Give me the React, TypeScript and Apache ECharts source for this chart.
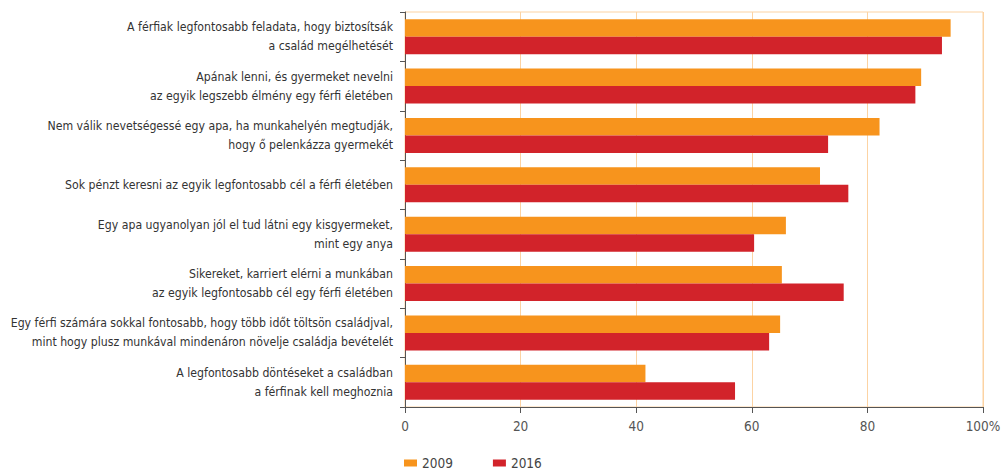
import React, { useEffect, useRef } from "react";
import * as echarts from "echarts";

const categories = [
  "A férfiak legfontosabb feladata, hogy biztosítsák\na család megélhetését",
  "Apának lenni, és gyermeket nevelni\naz egyik legszebb élmény egy férfi életében",
  "Nem válik nevetségessé egy apa, ha munkahelyén megtudják,\nhogy ő pelenkázza gyermekét",
  "Sok pénzt keresni az egyik legfontosabb cél a férfi életében",
  "Egy apa ugyanolyan jól el tud látni egy kisgyermeket,\nmint egy anya",
  "Sikereket, karriert elérni a munkában\naz egyik legfontosabb cél egy férfi életében",
  "Egy férfi számára sokkal fontosabb, hogy több időt töltsön családjval,\nmint hogy plusz munkával mindenáron növelje családja bevételét",
  "A legfontosabb döntéseket a családban\na férfinak kell meghoznia",
];
const values2009 = [94.4, 89.3, 82.1, 71.8, 65.9, 65.2, 64.9, 41.6];
const values2016 = [92.9, 88.3, 73.2, 76.7, 60.4, 75.9, 63.0, 57.1];
const seriesNames = ["2009", "2016"];
const xTicks = [0, 20, 40, 60, 80, 100];

const FONT = "'DejaVu Sans Condensed', Lato, sans-serif";

export default function App() {
  const ref = useRef<HTMLDivElement>(null);
  useEffect(() => {
    document.body.style.margin = "0";
    const chart = echarts.init(ref.current!, undefined, { renderer: "svg" });
    chart.setOption({
      animation: false,
      textStyle: { fontFamily: FONT },
      grid: {
        left: 405,
        right: 23,
        top: 12,
        bottom: 64,
        outerBoundsMode: "none",
        containLabel: false,
        show: true,
        borderColor: "#fcd3a3",
        borderWidth: 1,
      },
      legend: {
        left: 404,
        top: 456,
        itemWidth: 13,
        itemHeight: 7,
        itemGap: 40,
        icon: "rect",
        padding: 0,
        textStyle: { fontFamily: FONT, fontSize: 13.5, color: "#444" },
        data: seriesNames,
      },
      xAxis: {
        type: "value",
        min: xTicks[0],
        max: xTicks[xTicks.length - 1],
        interval: 20,
        axisLine: { show: true, lineStyle: { color: "#555", width: 1 } },
        axisTick: { show: true, length: 6, lineStyle: { color: "#555" } },
        axisLabel: {
          margin: 12,
          fontFamily: FONT,
          fontSize: 13.5,
          color: "#555",
          formatter: (v: number) => (v === 100 ? "100%" : String(v)),
        },
        splitLine: { show: true, lineStyle: { color: "#fcd3a3", width: 1 } },
      },
      yAxis: {
        type: "category",
        inverse: true,
        data: categories,
        axisLine: { show: true, lineStyle: { color: "#555", width: 1 } },
        axisTick: { show: true, length: 5, lineStyle: { color: "#555" } },
        axisLabel: {
          margin: 12,
          fontFamily: FONT,
          fontSize: 12.2,
          lineHeight: 19,
          color: "#333",
          align: "right",
        },
      },
      series: [
        {
          name: seriesNames[0],
          type: "bar",
          data: values2009,
          barWidth: 17.5,
          barGap: "0%",
          itemStyle: { color: "#f7941d" },
        },
        {
          name: seriesNames[1],
          type: "bar",
          data: values2016,
          barWidth: 17.5,
          barGap: "0%",
          itemStyle: { color: "#d2232a" },
        },
      ],
    });
    return () => chart.dispose();
  }, []);
  return <div ref={ref} style={{ width: 1006, height: 471 }} />;
}
